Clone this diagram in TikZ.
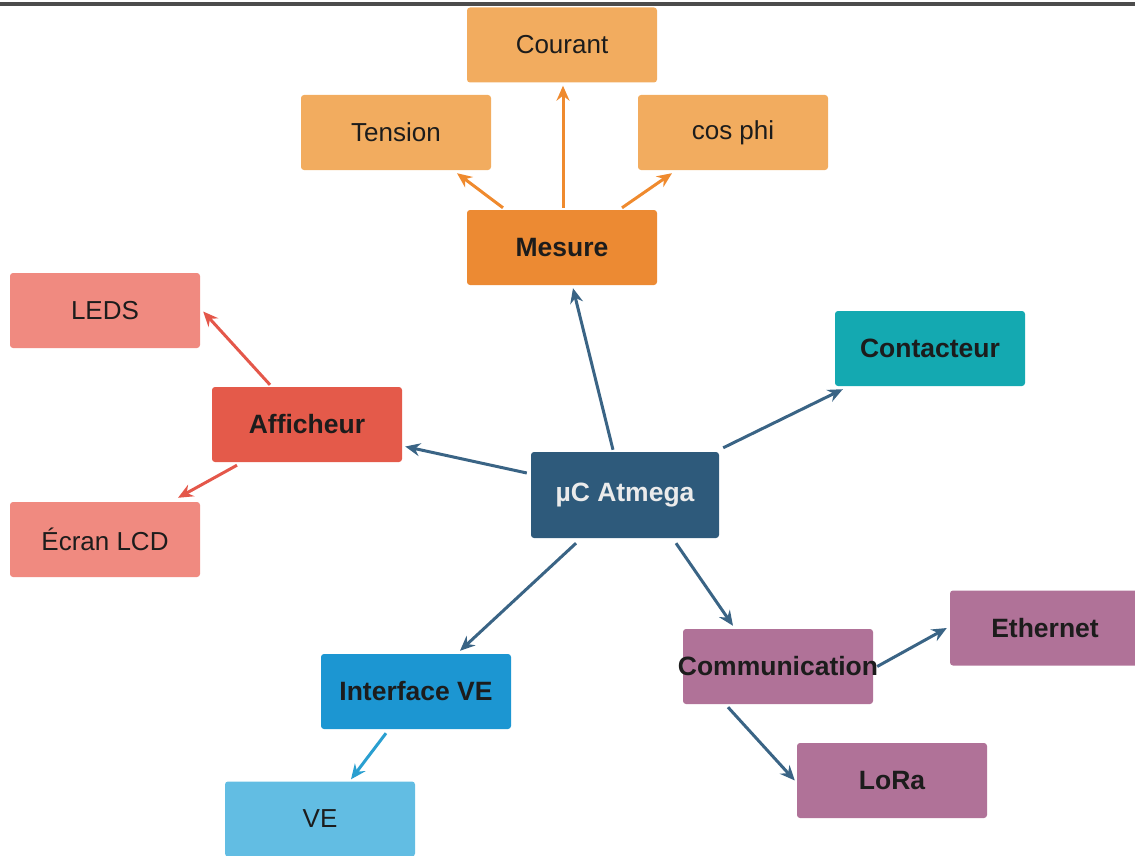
\documentclass[tikz,border=0pt]{standalone}
\usepackage{fontspec}
\setmainfont{Liberation Sans}
\usetikzlibrary{arrows.meta,calc}
\definecolor{lorange}{HTML}{F2AC5F}
\definecolor{dorange}{HTML}{EC8A33}
\definecolor{lred}{HTML}{F08A80}
\definecolor{dred}{HTML}{E45A4A}
\definecolor{teal2}{HTML}{14A9B1}
\definecolor{navy2}{HTML}{2E5A7B}
\definecolor{mauve}{HTML}{B07298}
\definecolor{dblue}{HTML}{1C96D2}
\definecolor{lblue}{HTML}{62BDE3}
\definecolor{arrblue}{HTML}{3A6485}
\definecolor{arrcyan}{HTML}{2A9FD0}
\definecolor{arrorange}{HTML}{EF8A2E}
\definecolor{arrred}{HTML}{E4574A}
\definecolor{txt}{HTML}{1C1C1C}
\tikzset{
  box/.style={rectangle, rounded corners=3pt, minimum width=190pt, minimum height=75pt,
    inner sep=0pt, text=txt, font=\fontsize{26}{30}\selectfont},
  bbox/.style={box, font=\fontsize{26.5}{30}\selectfont\bfseries},
  arr/.style={line width=3pt, -{Stealth[length=15pt,width=13pt,inset=5pt]}},
}
\begin{document}
\begin{tikzpicture}[x=1pt,y=-1pt]
\useasboundingbox (0,0) rectangle (1135,856);
\draw[line width=3.2pt, black!70] (0,4) -- (1135,4);

\node[box, fill=lorange] (cour) at (562,45) {Courant};
\node[box, fill=lorange] (ten) at (396,132.5) {Tension};
\node[box, fill=lorange] (cos) at (733,132.5) {cos phi};
\node[bbox, fill=dorange] (mes) at (562,247.5) {Mesure};
\node[box, fill=lred] (leds) at (105,310.5) {LEDS};
\node[bbox, fill=dred] (aff) at (307,424.5) {Afficheur};
\node[box, fill=lred] (ecr) at (105,539.5) {Écran LCD};
\node[bbox, fill=teal2] (cont) at (930,348.5) {Contacteur};
\node[bbox, fill=navy2, minimum width=188pt, minimum height=86pt, text=black!8] (mc) at (625,495) {µC Atmega};
\node[bbox, fill=mauve] (comm) at (778,666.5) {\makebox[0pt]{Communication}};
\node[bbox, fill=mauve] (eth) at (1045,628) {Ethernet};
\node[bbox, fill=mauve] (lora) at (892,780.5) {LoRa};
\node[bbox, fill=dblue] (ive) at (416,691.5) {Interface VE};
\node[box, fill=lblue] (ve) at (320,819) {VE};

\draw[arr, arrblue] ($(mc.north)+(-12,-2)$) -- ($(mes.south)+(11,3)$);
\draw[arr, arrblue] ($(mc.north east)+(4,-4)$) -- ($(cont.south west)+(8,3)$);
\draw[arr, arrblue] ($(mc.west)+(-4,-22)$) -- ($(aff.east)+(3,22)$);
\draw[arr, arrblue] ($(mc.south)+(-49,5)$) -- ($(ive.north)+(44,-3)$);
\draw[arr, arrblue] ($(mc.south)+(51,5)$) -- ($(comm.north)+(-45,-3)$);

\draw[arr, arrorange] ($(mes.north)+(-59,-2)$) -- ($(ten.south)+(61,3)$);
\draw[arr, arrorange] ($(mes.north)+(1,-2)$) -- ($(cour.south)+(1,3)$);
\draw[arr, arrorange] ($(mes.north)+(60,-2)$) -- ($(cos.south)+(-61,3)$);

\draw[arr, arrred] ($(aff.north)+(-37,-2)$) -- ($(leds.east)+(3,1)$);
\draw[arr, arrred] ($(aff.south)+(-70,3)$) -- ($(ecr.north)+(73,-4)$);

\draw[arr, arrblue] ($(comm.east)+(4,0)$) -- ($(eth.west)+(-3,0)$);
\draw[arr, arrblue] ($(comm.south)+(-50,3)$) -- ($(lora.west)+(-2,0)$);

\draw[arr, arrcyan] ($(ive.south)+(-30,4)$) -- ($(ve.north)+(31,-2)$);
\end{tikzpicture}
\end{document}
